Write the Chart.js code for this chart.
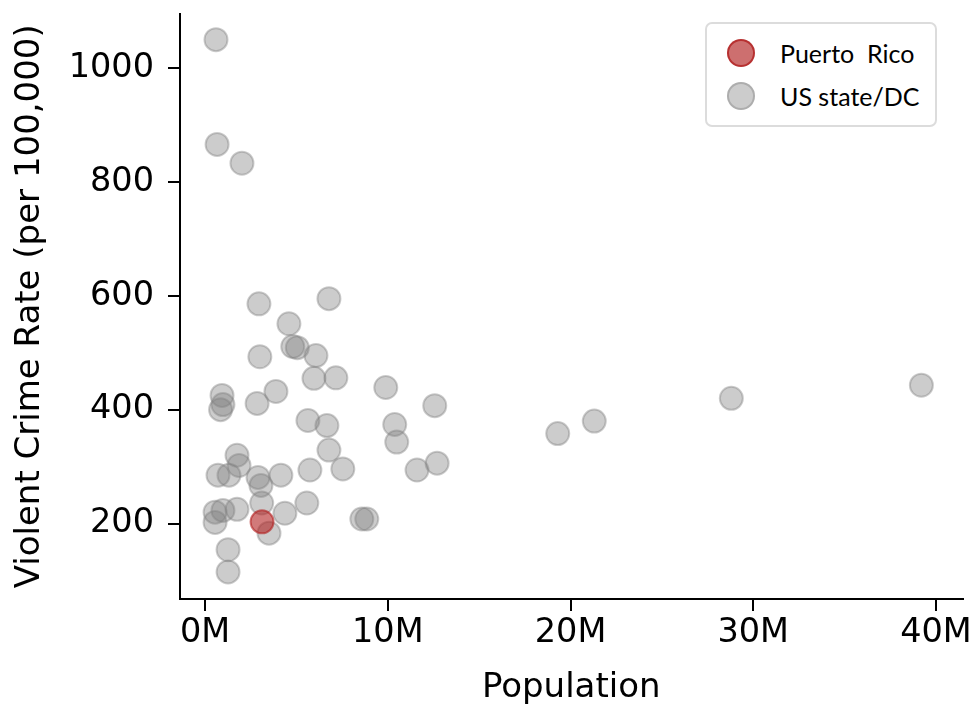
<!DOCTYPE html>
<html>
<head>
<meta charset="utf-8">
<script src="https://cdn.jsdelivr.net/npm/chart.js@4"></script>
<style>
  body { margin: 0; background: #fff; overflow: hidden; }
  #wrap { position: relative; width: 970px; height: 707px; overflow: hidden; }
  #leyenda {
    position: absolute; left: 705px; top: 22px; width: 228px; height: 101px;
    border: 2px solid #dcdcdc; border-radius: 7px; background: #fff;
    font-family: Lato, "Open Sans", sans-serif; font-size: 25px; color: #000;
  }
  .item { position: absolute; left: 20px; height: 28px; line-height: 28px; }
  .item span.dot { position: absolute; left: 0; top: 0; width: 24px; height: 24px; border-radius: 50%; }
  .item span.txt { position: absolute; left: 53px; white-space: pre; }
</style>
</head>
<body>
<div id="wrap">
  <canvas id="grafico" width="976" height="707"></canvas>
  <div id="leyenda">
    <div class="item" style="top:15px"><span class="dot" style="background:rgba(178,34,34,0.65);border:2px solid rgba(178,34,34,0.8)"></span><span class="txt">Puerto  Rico</span></div>
    <div class="item" style="top:58px"><span class="dot" style="background:rgba(128,128,128,0.4);border:2px solid rgba(128,128,128,0.4)"></span><span class="txt">US state/DC</span></div>
  </div>
</div>
<script>
// población en millones, tasa por 100.000
const popEstados = [0.60, 0.66, 2.02, 2.95, 6.78, 4.59, 4.80, 5.05, 6.07, 3.00,
  5.96, 7.16, 9.89, 12.57, 0.93, 0.98, 0.85, 2.85, 3.88, 5.63,
  6.67, 10.38, 10.49, 6.78, 1.75, 1.86, 0.71, 1.31, 2.90, 3.06,
  4.15, 5.74, 7.54, 11.60, 12.70, 3.10, 5.57, 4.37, 0.55, 0.55,
  0.98, 1.75, 3.50, 1.26, 1.26, 8.58, 8.85, 19.30, 21.30, 28.80, 39.20];
const tasaEstados = [1050, 866, 833, 586, 595, 551, 511, 509, 495, 493,
  455, 456, 439, 407, 425, 409, 400, 411, 432, 381,
  372, 374, 343, 329, 320, 302, 285, 285, 281, 267,
  285, 294, 296, 294, 306, 236, 236, 218, 220, 202,
  223, 225, 183, 154, 115, 208, 208, 358, 380, 420, 443];
const popPR = [3.12];
const tasaPR = [203];
const ticksX = [0, 10, 20, 30, 40];
const ticksY = [200, 400, 600, 800, 1000];

const puntos = (xs, ys) => xs.map((x, i) => ({ x: x, y: ys[i] }));

const fuenteEje = { family: "DejaVu Sans", size: 33.5 };

const grafico = new Chart(document.getElementById("grafico"), {
  type: "scatter",
  data: {
    datasets: [{
      label: "Puerto  Rico",
      data: puntos(popPR, tasaPR),
      backgroundColor: "rgba(178,34,34,0.6)",
      borderColor: "rgba(178,34,34,0.6)",
      borderWidth: 2,
      pointRadius: 11.5
    }, {
      label: "US state/DC",
      data: puntos(popEstados, tasaEstados),
      backgroundColor: "rgba(128,128,128,0.4)",
      borderColor: "rgba(128,128,128,0.4)",
      borderWidth: 2,
      pointRadius: 11.5
    }]
  },
  options: {
    responsive: false,
    animation: false,
    layout: { padding: { top: 12, right: 1, left: 0, bottom: 0 } },
    plugins: { legend: { display: false }, tooltip: { enabled: false } },
    scales: {
      x: {
        min: -1.37, max: 41.45,
        afterBuildTicks: (s) => { s.ticks = ticksX.map(v => ({ value: v })); },
        afterFit: (s) => { s.height = 108; s.paddingLeft = 0; s.paddingRight = 0; },
        ticks: { color: "#000", font: fuenteEje, padding: 2, maxRotation: 0, callback: (v) => v + "M" },
        grid: { drawOnChartArea: false, drawTicks: true, tickLength: 12, color: "#000", lineWidth: 2 },
        border: { display: true, color: "#000", width: 2 },
        title: { display: true, text: "Population", color: "#000", font: { family: "DejaVu Sans", size: 34 }, padding: { top: 0, bottom: -2 } }
      },
      y: {
        min: 67.4, max: 1096,
        afterBuildTicks: (s) => { s.ticks = ticksY.map(v => ({ value: v })); },
        afterFit: (s) => { s.width = 180; s.paddingTop = 0; s.paddingBottom = 0; },
        ticks: { color: "#000", font: fuenteEje, padding: 14, callback: (v) => String(v) },
        grid: { drawOnChartArea: false, drawTicks: true, tickLength: 12, color: "#000", lineWidth: 2 },
        border: { display: true, color: "#000", width: 2 },
        title: { display: true, text: "Violent Crime Rate (per 100,000)", color: "#000", font: { family: "DejaVu Sans", size: 34 }, padding: { top: 10, bottom: 0 } }
      }
    }
  }
});
</script>
</body>
</html>
